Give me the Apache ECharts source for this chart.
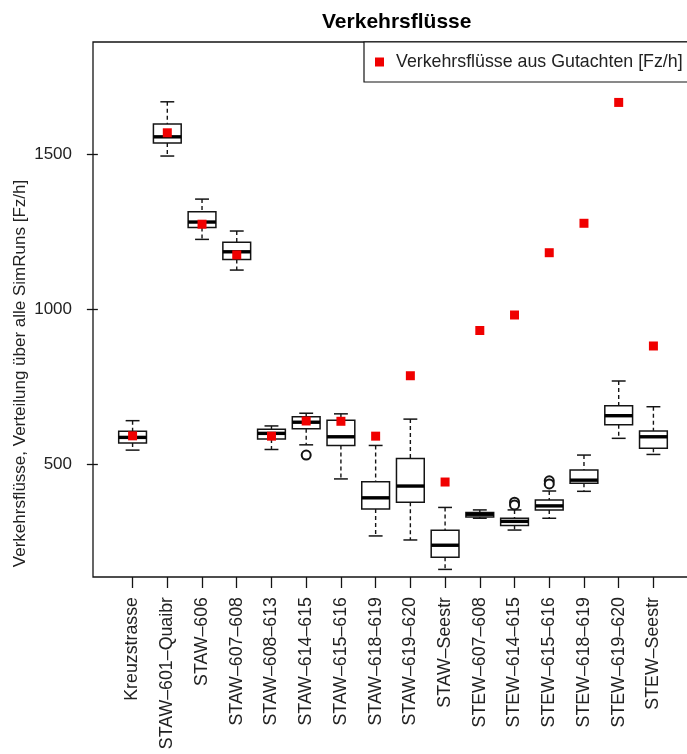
<!DOCTYPE html>
<html>
<head>
<meta charset="utf-8">
<script src="https://cdn.jsdelivr.net/npm/echarts@6/dist/echarts.min.js"></script>
<style>
  html, body { margin: 0; padding: 0; background: #fff; }
  #chart { width: 687px; height: 754px; }
</style>
</head>
<body>
<div id="chart"></div>
<script>
// ---- data ----
var categories = ['Kreuzstrasse', 'STAW–601–Quaibr', 'STAW–606', 'STAW–607–608', 'STAW–608–613',
  'STAW–614–615', 'STAW–615–616', 'STAW–618–619', 'STAW–619–620', 'STAW–Seestr',
  'STEW–607–608', 'STEW–614–615', 'STEW–615–616', 'STEW–618–619', 'STEW–619–620', 'STEW–Seestr'];
var whiskerLow  = [545, 1494, 1225, 1126, 547, 562, 452, 268, 255, 160, 325, 287, 325, 412, 583, 531];
var quartile1   = [568, 1536, 1263, 1160, 581, 614, 560, 355, 377, 199, 329, 302, 352, 438, 627, 551];
var medians     = [586, 1556, 1281, 1185, 599, 635, 588, 391, 429, 238, 338, 315, 365, 448, 656, 588];
var quartile3   = [606, 1597, 1314, 1216, 612, 653, 641, 443, 518, 286, 344, 325, 384, 481, 688, 607];
var whiskerHigh = [640, 1669, 1355, 1252, 623, 664, 662, 560, 645, 360, 352, 352, 413, 529, 768, 685];
var gutachten   = [591, 1569, 1274, 1175, 590, 639, 638, 590, 785, 442, 931, 981, 1182, 1277, 1667, 881];
var outlierCat  = [6, 12, 12, 13, 13];
var outlierVal  = [529, 377, 368, 446, 436];
var yTicks = [500, 1000, 1500];

// ---- build ----
var positions = categories.map(function (c, i) { return i + 1; });
var boxData = positions.map(function (p, i) {
  return [p, whiskerLow[i], quartile1[i], medians[i], quartile3[i], whiskerHigh[i]];
});
var redData = positions.map(function (p, i) { return [p, gutachten[i]]; });
var outData = outlierCat.map(function (c, i) { return [c, outlierVal[i]]; });

var FONT = "'Liberation Sans', Arial, Helvetica, sans-serif";
var INK = '#141414';

function renderBox(params, api) {
  var x = api.value(0);
  var lo = api.coord([x, api.value(1)]);
  var q1 = api.coord([x, api.value(2)]);
  var md = api.coord([x, api.value(3)]);
  var q3 = api.coord([x, api.value(4)]);
  var hi = api.coord([x, api.value(5)]);
  var w = api.size([0.8, 0])[0];
  var cx = lo[0];
  var sw = w / 4;
  var dash = { stroke: INK, lineWidth: 1.4, lineDash: [4, 3], fill: null };
  var solid = { stroke: INK, lineWidth: 1.5, fill: null };
  return {
    type: 'group',
    children: [
      { type: 'line', shape: { x1: cx, y1: hi[1], x2: cx, y2: q3[1] }, style: dash },
      { type: 'line', shape: { x1: cx, y1: q1[1], x2: cx, y2: lo[1] }, style: dash },
      { type: 'line', shape: { x1: cx - sw, y1: hi[1], x2: cx + sw, y2: hi[1] }, style: solid },
      { type: 'line', shape: { x1: cx - sw, y1: lo[1], x2: cx + sw, y2: lo[1] }, style: solid },
      { type: 'rect', shape: { x: cx - w / 2, y: q3[1], width: w, height: q1[1] - q3[1] },
        style: { fill: '#fff', stroke: INK, lineWidth: 1.5 } },
      { type: 'line', shape: { x1: cx - w / 2, y1: md[1], x2: cx + w / 2, y2: md[1] },
        style: { stroke: '#000', lineWidth: 3.4 } }
    ]
  };
}

var chart = echarts.init(document.getElementById('chart'), null, { renderer: 'canvas' });
chart.setOption({
  backgroundColor: '#fff',
  animation: false,
  title: {
    text: 'Verkehrsflüsse',
    left: 317, top: 7,
    textStyle: { fontFamily: FONT, fontSize: 21, fontWeight: 'bold', color: '#000' }
  },
  legend: {
    data: [{ name: 'Verkehrsflüsse aus Gutachten [Fz/h]', icon: 'rect' }],
    left: 364, top: 42,
    padding: [11, 30, 11, 11],
    itemWidth: 9, itemHeight: 9,
    borderColor: INK, borderWidth: 1.2,
    backgroundColor: '#fff',
    textStyle: { fontFamily: FONT, fontSize: 17.8, color: '#222', padding: [0, 0, 0, 7] }
  },
  grid: {
    left: 93, top: 42, width: 600, height: 535,
    containLabel: false, outerBoundsMode: 'none',
    show: true, borderColor: INK, borderWidth: 1.3, backgroundColor: 'transparent'
  },
  xAxis: {
    type: 'value', min: -0.14, max: 17.14,
    splitLine: { show: false },
    axisLine: { show: false },
    axisTick: { show: true, length: 11, lineStyle: { color: INK, width: 1.3 }, customValues: positions },
    axisLabel: {
      customValues: positions, rotate: 90, margin: 20,
      fontFamily: FONT, fontSize: 17.8, color: '#222',
      formatter: function (v) { return categories[Math.round(v) - 1] || ''; }
    }
  },
  yAxis: {
    type: 'value', min: 135.5, max: 1862,
    name: 'Verkehrsflüsse, Verteilung über alle SimRuns [Fz/h]',
    nameLocation: 'middle', nameGap: 64, nameMoveOverlap: false,
    nameTextStyle: { fontFamily: FONT, fontSize: 17, color: '#222', padding: [0, 128, 0, 0] },
    splitLine: { show: false },
    axisLine: { show: false },
    axisTick: { show: true, length: 11, lineStyle: { color: INK, width: 1.3 }, customValues: yTicks },
    axisLabel: {
      customValues: yTicks, margin: 21, fontFamily: FONT, fontSize: 17, color: '#222',
      formatter: function (v) { return String(v); }
    }
  },
  series: [
    {
      type: 'custom', name: 'SimRuns', renderItem: renderBox, data: boxData,
      encode: { x: 0, y: [1, 2, 3, 4, 5] }, z: 2
    },
    {
      type: 'scatter', name: 'Ausreißer', data: outData, symbol: 'emptyCircle', symbolSize: 9,
      itemStyle: { color: INK, borderColor: INK, borderWidth: 1.2, opacity: 1 }, z: 3
    },
    {
      type: 'scatter', name: 'Verkehrsflüsse aus Gutachten [Fz/h]', data: redData,
      symbol: 'rect', symbolSize: 9, itemStyle: { color: '#f00000', opacity: 1 }, z: 4
    }
  ]
});
</script>
</body>
</html>
